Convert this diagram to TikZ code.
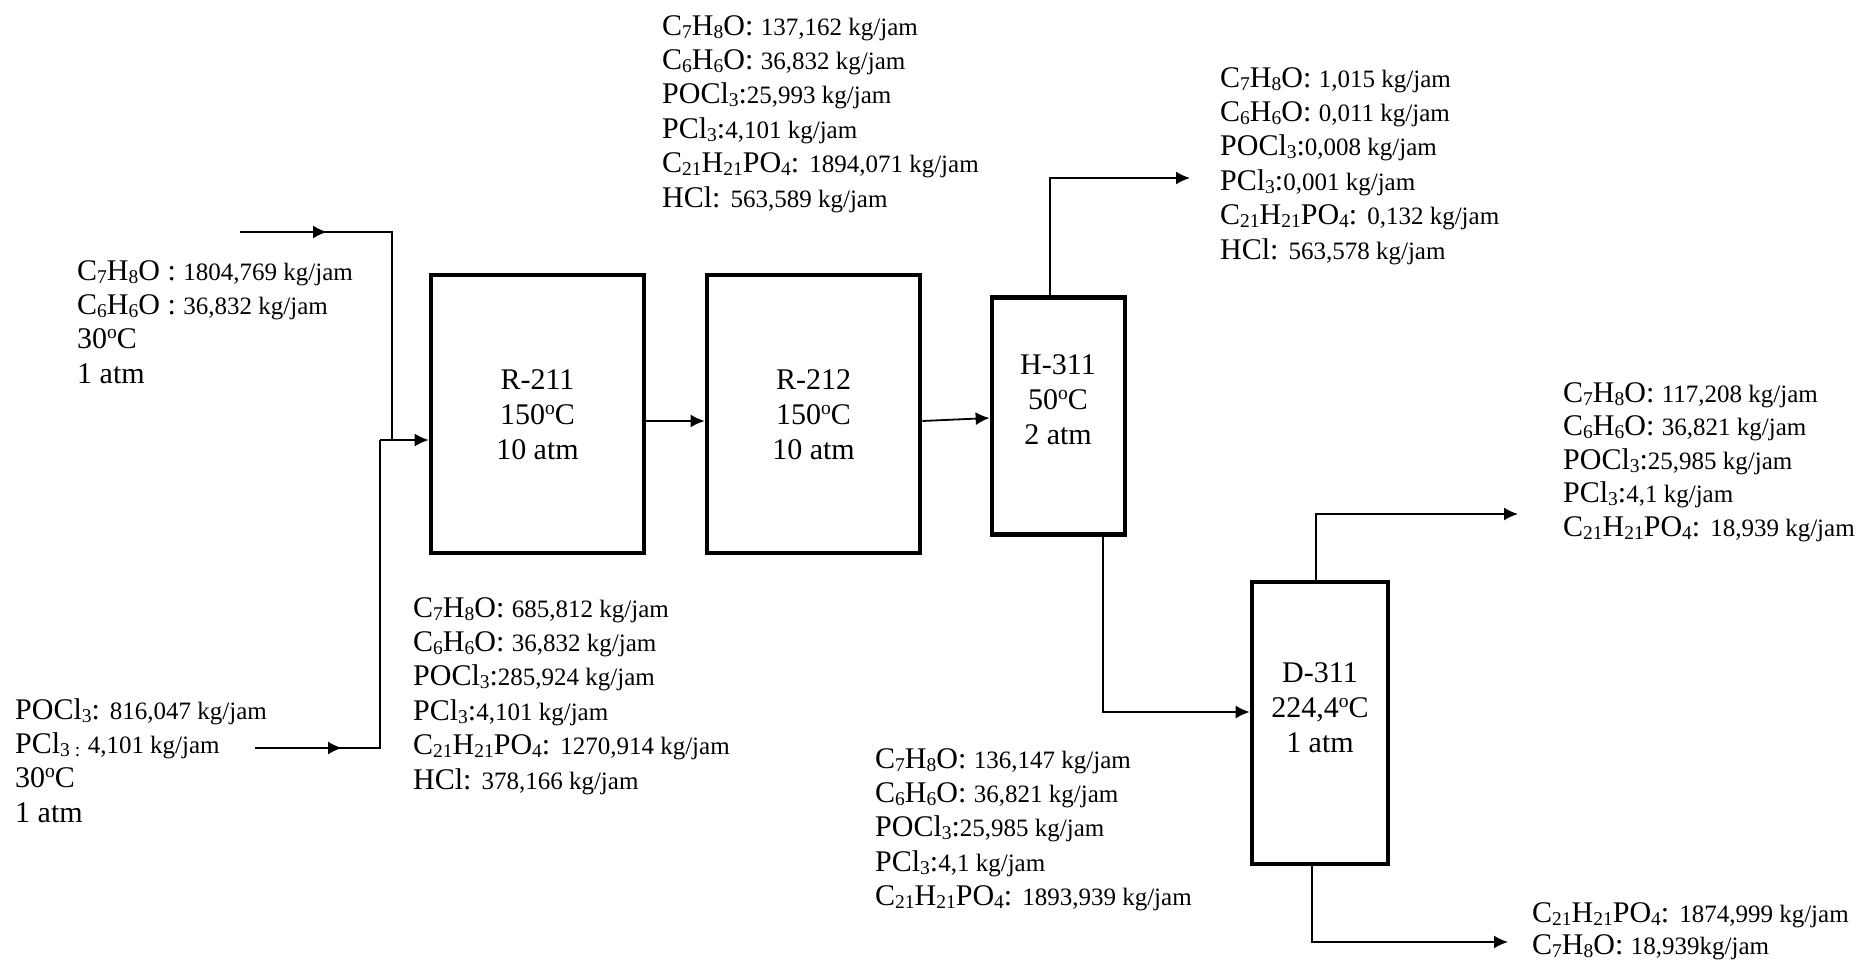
\documentclass[tikz,border=0pt]{standalone}
\usepackage{fontspec}
\setmainfont{Liberation Serif}
\usetikzlibrary{arrows.meta}
\newcommand\sbs[1]{\raisebox{-3pt}{\fontsize{19.5}{19.5}\selectfont #1}}
\newcommand\dgo{\raisebox{10pt}{\fontsize{19.5}{19.5}\selectfont o}}
\newcommand\nm[1]{{\fontsize{25}{34.4}\selectfont #1}}
\begin{document}
\begin{tikzpicture}[x=1pt,y=-1pt,
  unit/.style={draw, line width=4.7pt, rectangle, inner sep=0pt},
  lbl/.style={align=center, inner sep=0pt, font={\fontsize{30}{35}\selectfont}},
  stream/.style={align=left, anchor=north west, inner sep=0pt, font={\fontsize{30}{34.4}\selectfont}},
  pipe/.style={line width=1.8pt},
  arr/.style={pipe, -{Latex[length=14pt,width=13pt]}}]
\useasboundingbox (0,0) rectangle (1875,964);

% units
\node[unit, minimum width=213pt, minimum height=278pt] (R211) at (537.5,414) {};
\node[unit, minimum width=213pt, minimum height=278pt] (R212) at (813.5,414) {};
\node[unit, minimum width=133pt, minimum height=237pt] (H311) at (1058.5,416) {};
\node[unit, minimum width=136pt, minimum height=282pt] (D311) at (1320,723) {};

\node[lbl] (R211t) at (537.5,415) {R-211\\150\dgo C\\10 atm};
\node[lbl] (R212t) at (813.5,415) {R-212\\150\dgo C\\10 atm};
\node[lbl] (H311t) at (1058,400) {H-311\\50\dgo C\\2 atm};
\node[lbl] (D311t) at (1320,708) {D-311\\224,4\dgo C\\1 atm};

% inlets
\coordinate (in1) at (240,232);
\coordinate (in1m) at (327,232);
\coordinate (in1c) at (392,232);
\coordinate (j1) at (392,440);
\coordinate (in2) at (255,748);
\coordinate (in2m) at (342,748);
\coordinate (in2c) at (380,748);
\coordinate (j2) at (380,440);
\draw[pipe] (in1) -- (in1c) -- (j1) -- (j2);
\draw[arr] (in1) -- (in1m);
\draw[pipe] (in2) -- (in2c) -- (j2);
\draw[arr] (in2) -- (in2m);
\draw[arr] (j2) -- (R211.west |- j2);

% connections
\coordinate (a1) at (0,421);
\coordinate (a2) at (0,418);
\draw[arr] (R211.east |- a1) -- (R212.west |- a1);
\draw[arr] (R212.east |- a1) -- (H311.west |- a2);
\coordinate (hx) at (1050,178);
\coordinate (hT) at (1190,178);
\draw[arr] (H311.north -| hx) -- (hx) -- (hT);
\coordinate (hb) at (1103,712);
\draw[arr] (H311.south -| hb) -- (hb) -- (D311.west |- hb);
\coordinate (dt) at (1316,514);
\coordinate (dT) at (1518,514);
\draw[arr] (D311.north -| dt) -- (dt) -- (dT);
\coordinate (db) at (1312,942);
\coordinate (dB) at (1508,942);
\draw[arr] (D311.south -| db) -- (db) -- (dB);

% stream tables
\node[stream] (sTL) at (77,260) {C\sbs{7}H\sbs{8}O : \nm{1804,769 kg/jam}\\
C\sbs{6}H\sbs{6}O : \nm{36,832 kg/jam}\\
30\dgo C\\
1 atm};

\node[stream] (sBL) at (15,698) {POCl\sbs{3}: \nm{816,047 kg/jam}\\
PCl\sbs{3 :} \nm{4,101 kg/jam}\\
30\dgo C\\
1 atm};

\node[stream] (sBM) at (413,597) {C\sbs{7}H\sbs{8}O: \nm{685,812 kg/jam}\\
C\sbs{6}H\sbs{6}O: \nm{36,832 kg/jam}\\
POCl\sbs{3}:\nm{285,924 kg/jam}\\
PCl\sbs{3}:\nm{4,101 kg/jam}\\
C\sbs{21}H\sbs{21}PO\sbs{4}: \nm{1270,914 kg/jam}\\
HCl: \nm{378,166 kg/jam}};

\node[stream] (sTM) at (662,15) {C\sbs{7}H\sbs{8}O: \nm{137,162 kg/jam}\\
C\sbs{6}H\sbs{6}O: \nm{36,832 kg/jam}\\
POCl\sbs{3}:\nm{25,993 kg/jam}\\
PCl\sbs{3}:\nm{4,101 kg/jam}\\
C\sbs{21}H\sbs{21}PO\sbs{4}: \nm{1894,071 kg/jam}\\
HCl: \nm{563,589 kg/jam}};

\node[stream] (sTR) at (1220,67) {C\sbs{7}H\sbs{8}O: \nm{1,015 kg/jam}\\
C\sbs{6}H\sbs{6}O: \nm{0,011 kg/jam}\\
POCl\sbs{3}:\nm{0,008 kg/jam}\\
PCl\sbs{3}:\nm{0,001 kg/jam}\\
C\sbs{21}H\sbs{21}PO\sbs{4}: \nm{0,132 kg/jam}\\
HCl: \nm{563,578 kg/jam}};

\node[stream, font={\fontsize{30}{33.5}\selectfont}] (sR) at (1563,382) {C\sbs{7}H\sbs{8}O: \nm{117,208 kg/jam}\\
C\sbs{6}H\sbs{6}O: \nm{36,821 kg/jam}\\
POCl\sbs{3}:\nm{25,985 kg/jam}\\
PCl\sbs{3}:\nm{4,1 kg/jam}\\
C\sbs{21}H\sbs{21}PO\sbs{4}: \nm{18,939 kg/jam}};

\node[stream] (sLM) at (875,748) {C\sbs{7}H\sbs{8}O: \nm{136,147 kg/jam}\\
C\sbs{6}H\sbs{6}O: \nm{36,821 kg/jam}\\
POCl\sbs{3}:\nm{25,985 kg/jam}\\
PCl\sbs{3}:\nm{4,1 kg/jam}\\
C\sbs{21}H\sbs{21}PO\sbs{4}: \nm{1893,939 kg/jam}};

\node[stream, font={\fontsize{30}{32}\selectfont}] (sBR) at (1532,902) {C\sbs{21}H\sbs{21}PO\sbs{4}: \nm{1874,999 kg/jam}\\
C\sbs{7}H\sbs{8}O: \nm{18,939kg/jam}};
\end{tikzpicture}
\end{document}
